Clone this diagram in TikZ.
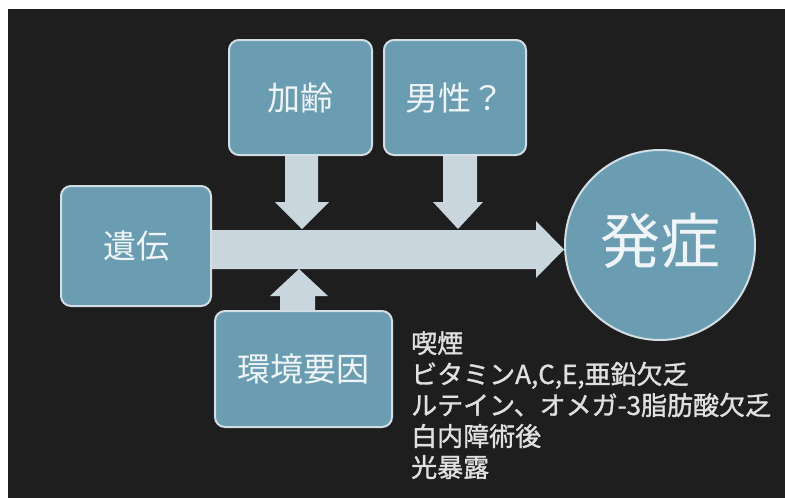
\documentclass[tikz,border=0pt]{standalone}
\usepackage{fontspec}
\setmainfont{Noto Sans CJK JP}
\newfontfamily\listfont[FakeBold=1.2]{Noto Sans CJK JP}
\usetikzlibrary{backgrounds}
\definecolor{bg}{HTML}{1F1E1E}
\definecolor{boxfill}{HTML}{6A9DB2}
\definecolor{boxline}{HTML}{D2DEE4}
\definecolor{arrfill}{HTML}{C9D6DE}
\definecolor{txt}{HTML}{EEF4F7}
\definecolor{listtxt}{HTML}{E0E0E0}
\begin{document}
\begin{tikzpicture}[x=1pt,y=-1pt,
  factor/.style={draw=boxline, line width=2pt, fill=boxfill, rounded corners=10pt,
    text=txt, font=\fontsize{33}{40}\selectfont, inner sep=0pt},
  result/.style={circle, draw=boxline, line width=2pt, fill=boxfill,
    text=txt, font=\fontsize{60}{70}\selectfont, inner sep=0pt, minimum size=190pt},
  fatarrow/.style={fill=arrfill},
  listtext/.style={text=listtxt, font=\fontsize{26}{31}\selectfont\listfont,
    align=left, inner sep=0pt}]
\useasboundingbox (0,0) rectangle (785,498);

\node[factor, minimum width=150pt, minimum height=120pt] (gene) at (136,246) {遺伝};
\node[factor, minimum width=143pt, minimum height=115pt] (aging) at (300.5,97.5) {加齢};
\node[factor, minimum width=142pt, minimum height=115pt] (male) at (455,97.5) {男性？};
\node[factor, minimum width=177pt, minimum height=116pt] (env) at (303.5,369) {環境要因};
\node[result] (onset) at (660,245) {\raisebox{14pt}{発症}};
\node[listtext, anchor=north west] (list) at (411,331)
  {喫煙\\ビタミンA,C,E,亜鉛欠乏\\ルテイン、オメガ-3脂肪酸欠乏\\白内障術後\\光暴露};

\begin{scope}[on background layer]
  \fill[white] (0,0) rectangle (785,498);
  \fill[bg] (8,9) rectangle (785,498);
  % main arrow: gene -> onset
  \fill[fatarrow] (gene.east |- 0,230) -- (536,230) -- (536,221)
    -- (onset.west |- 0,249.5) -- (536,278) -- (536,269) -- (gene.east |- 0,269) -- cycle;
  % aging -> main arrow
  \fill[fatarrow] (aging.south -| 285,0) -- (285,202) -- (275,202) -- (302,229)
    -- (329,202) -- (318,202) -- (aging.south -| 318,0) -- cycle;
  % male -> main arrow
  \fill[fatarrow] (male.south -| 443,0) -- (443,202) -- (433,202) -- (458,229)
    -- (483,202) -- (477,202) -- (male.south -| 477,0) -- cycle;
  % env -> main arrow
  \fill[fatarrow] (env.north -| 280,0) -- (280,296) -- (270,296) -- (299,269)
    -- (328,296) -- (315,296) -- (env.north -| 315,0) -- cycle;
\end{scope}
\end{tikzpicture}
\end{document}
